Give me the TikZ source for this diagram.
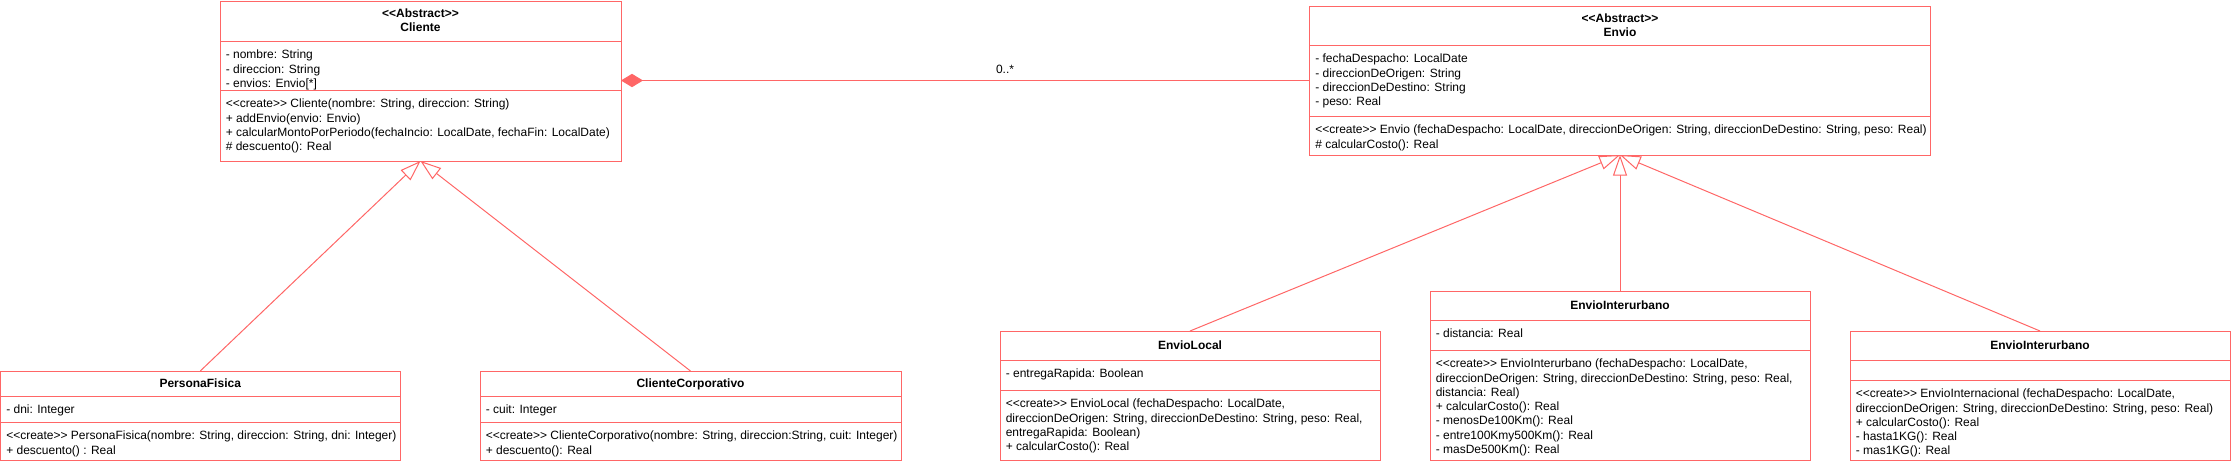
\documentclass[tikz,border=0pt]{standalone}
\usepackage{fontspec}
\setmainfont{Liberation Sans}
\usetikzlibrary{arrows.meta}
\definecolor{umlred}{HTML}{FF6666}
\newcommand\umlstrut{\rule{0pt}{9pt}}
\newcommand\crt{\textless\kern0pt\textless\kern0pt create\textgreater\kern0pt\textgreater}
\newcommand\abst{\textless\kern0pt\textless\kern0pt Abstract\textgreater\kern0pt\textgreater}
\newcommand\umlclass[7]{%
  \pgfmathsetmacro\umlw{(#4-#2)*0.75}%
  \pgfmathsetmacro\umlh{(#5-#3)*0.75}%
  \node[umlbox, minimum width=\umlw pt, minimum height=\umlh pt] (#1) at (#2,#3) {};
  \draw[umlline] (#2,#6) -- (#4,#6);
  \draw[umlline] (#2,#7) -- (#4,#7);
}
\begin{document}
\begin{tikzpicture}[x=0.75pt, y=-0.75pt,
  umlline/.style={draw=umlred, line width=0.75pt},
  umlbox/.style={draw=umlred, line width=0.75pt, anchor=north west, inner sep=0pt, outer sep=0pt},
  txt/.style={anchor=north west, inner sep=0pt, align=left, font=\fontsize{9pt}{10.7pt}\selectfont},
  hdr/.style={anchor=north, inner sep=0pt, align=center, font=\bfseries\fontsize{9pt}{10.5pt}\selectfont},
  gen/.style={draw=umlred, line width=0.75pt, -{Triangle[open, length=15.5pt, width=10.5pt, fill=white]}},
  comp/.style={draw=umlred, line width=0.75pt, {Diamond[length=16.5pt, width=10pt]}-},
  lbl/.style={anchor=base, inner sep=0pt, font=\fontsize{9pt}{10.7pt}\selectfont}]
\useasboundingbox (0,0) rectangle (2231,464);

% Cliente
\umlclass{cli}{220}{1}{621}{161}{41}{90}
\node[hdr] (cli-h) at (420.5,5.3) {\umlstrut\abst\\Cliente};
\node[txt] (cli-a) at (225.5,46.5) {\umlstrut- nombre: String\\- direccion: String\\- envios: Envio[*]};
\node[txt] (cli-m) at (225.5,95.5) {\umlstrut\crt{} Cliente(nombre: String, direccion: String)\\+ addEnvio(envio: Envio)\\+ calcularMontoPorPeriodo(fechaIncio: LocalDate, fechaFin: LocalDate)\\\# descuento(): Real};

% Envio
\umlclass{env}{1309.5}{6}{1930.5}{155}{45}{116}
\node[hdr] (env-h) at (1620,10.3) {\umlstrut\abst\\Envio};
\node[txt] (env-a) at (1315,50.5) {\umlstrut- fechaDespacho: LocalDate\\- direccionDeOrigen: String\\- direccionDeDestino: String\\- peso: Real};
\node[txt] (env-m) at (1315,121.5) {\umlstrut\crt{} Envio (fechaDespacho: LocalDate, direccionDeOrigen: String, direccionDeDestino: String, peso: Real)\\\# calcularCosto(): Real};

% PersonaFisica
\umlclass{pf}{0.5}{371}{400}{460}{396}{422}
\node[hdr] (pf-h) at (200.25,375.3) {\umlstrut PersonaFisica};
\node[txt] (pf-a) at (6,401.5) {\umlstrut- dni: Integer};
\node[txt] (pf-m) at (6,427.5) {\umlstrut\crt{} PersonaFisica(nombre: String, direccion: String, dni: Integer)\\+ descuento() : Real};

% ClienteCorporativo
\umlclass{cc}{480}{371}{901}{460}{396}{422}
\node[hdr] (cc-h) at (690.5,375.3) {\umlstrut ClienteCorporativo};
\node[txt] (cc-a) at (485.5,401.5) {\umlstrut- cuit: Integer};
\node[txt] (cc-m) at (485.5,427.5) {\umlstrut\crt{} ClienteCorporativo(nombre: String, direccion:String, cuit: Integer)\\+ descuento(): Real};

% EnvioLocal
\umlclass{el}{1000}{331}{1380}{460}{360}{390}
\node[hdr] (el-h) at (1190,337.3) {\umlstrut EnvioLocal};
\node[txt] (el-a) at (1005.5,365.5) {\umlstrut- entregaRapida: Boolean};
\node[txt] (el-m) at (1005.5,395.5) {\umlstrut\crt{} EnvioLocal (fechaDespacho: LocalDate,\\direccionDeOrigen: String, direccionDeDestino: String, peso: Real,\\entregaRapida: Boolean)\\+ calcularCosto(): Real};

% EnvioInterurbano
\umlclass{ei}{1430}{291}{1810}{460}{320}{350}
\node[hdr] (ei-h) at (1620,297.3) {\umlstrut EnvioInterurbano};
\node[txt] (ei-a) at (1435.5,325.5) {\umlstrut- distancia: Real};
\node[txt] (ei-m) at (1435.5,355.5) {\umlstrut\crt{} EnvioInterurbano (fechaDespacho: LocalDate,\\direccionDeOrigen: String, direccionDeDestino: String, peso: Real,\\distancia: Real)\\+ calcularCosto(): Real\\- menosDe100Km(): Real\\- entre100Kmy500Km(): Real\\- masDe500Km(): Real};

% EnvioInternacional (titled EnvioInterurbano)
\umlclass{eint}{1850}{331}{2230}{460}{360}{380}
\node[hdr] (eint-h) at (2040,337.3) {\umlstrut EnvioInterurbano};
\node[txt] (eint-m) at (1855.5,385.5) {\umlstrut\crt{} EnvioInternacional (fechaDespacho: LocalDate,\\direccionDeOrigen: String, direccionDeDestino: String, peso: Real)\\+ calcularCosto(): Real\\- hasta1KG(): Real\\- mas1KG(): Real};

% connectors
\draw[gen] (pf.north) -- (cli.south);
\draw[gen] (cc.north) -- (cli.south);
\draw[gen] (el.north) -- (env.south);
\draw[gen] (ei.north) -- (env.south);
\draw[gen] (eint.north) -- (env.south);
\draw[comp] (env.west -| cli.east) -- (env.west);
\node[lbl] (mult) at (1005,73) {0..*};
\end{tikzpicture}
\end{document}
